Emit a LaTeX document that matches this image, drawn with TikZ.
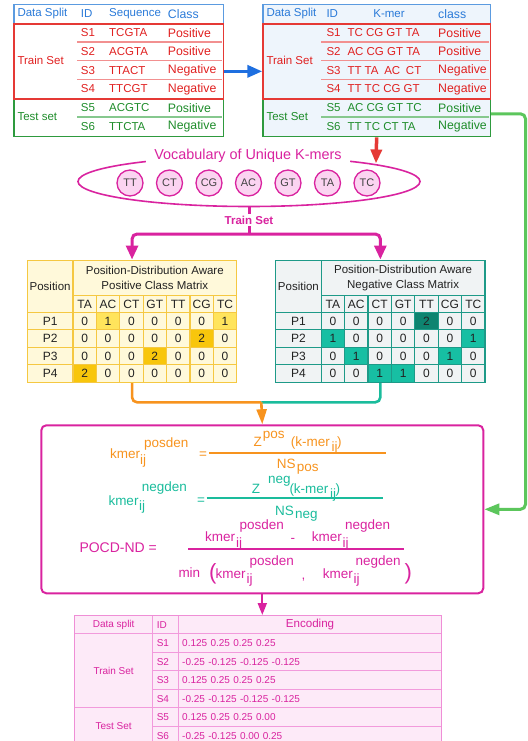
\documentclass[tikz,border=0pt]{standalone}
\usepackage{fontspec}
\setmainfont{Liberation Sans}
\usetikzlibrary{arrows.meta,calc,shapes.geometric}

% palette
\definecolor{hdrblue}{HTML}{5B9BE0}
\definecolor{txtblue}{HTML}{2A7AD8}
\definecolor{arrblue}{HTML}{1E6FE0}
\definecolor{trred}{HTML}{E53935}
\definecolor{trtxt}{HTML}{E02020}
\definecolor{trredl}{HTML}{F29090}
\definecolor{tsgreen}{HTML}{2E9A3E}
\definecolor{tstxt}{HTML}{1E8C2A}
\definecolor{tsgreenl}{HTML}{86C88E}
\definecolor{kmerbg}{HTML}{EEF5FC}
\definecolor{magc}{HTML}{D9239F}
\definecolor{magl}{HTML}{FBD4F1}
\definecolor{orngc}{HTML}{F7931E}
\definecolor{tealc}{HTML}{1ABC9C}
\definecolor{tealb}{HTML}{1E9A88}
\definecolor{greenc}{HTML}{5CC65C}
\definecolor{celltxt}{HTML}{222222}
\definecolor{pbg}{HTML}{FDEAF8}
\definecolor{pborder}{HTML}{F29ADC}
% cell fills of the two class matrices (index = count)
\definecolor{pmc0}{HTML}{FFF9DA}
\definecolor{pmc1}{HTML}{FFE45C}
\definecolor{pmc2}{HTML}{F8C60C}
\definecolor{yborder}{HTML}{F5C842}
\definecolor{nmc0}{HTML}{F0F3F4}
\definecolor{nmc1}{HTML}{17BFA3}
\definecolor{nmc2}{HTML}{0E8470}

\newcommand\fsz[1]{\fontsize{#1}{#1}\selectfont}

% position-distribution class matrix: #1 prefix, #2 left x, #3 border, #4 title line, #5 rows
\newcommand\classmatrix[5]{%
  \begin{scope}[every node/.style={draw=#3, line width=1.2pt, inner sep=0pt, text=celltxt, font=\fsz{11.5}, anchor=north west}]
    \node[fill=#1c0, minimum width=45.6pt, minimum height=52.2pt] (#1-pos) at (#2,259.5) {Position};
    \node[fill=#1c0, minimum width=163.8pt, minimum height=35.5pt, align=center, font=\fontsize{11.5}{15}\selectfont] (#1-title) at ({#2+45.6},259.5) {Position-Distribution Aware\\#4};
    \foreach \k [count=\c] in {TA,AC,CT,GT,TT,CG,TC}
      \node[fill=#1c0, minimum width=23.4pt, minimum height=16.7pt, font=\fsz{12}] (#1-h\c) at ({#2+45.6+23.4*(\c-1)},295) {\k};
    \foreach \row [count=\r] in {#5} {
      \node[fill=#1c0, minimum width=45.6pt, minimum height=17.5pt, font=\fsz{12}] (#1-p\r) at (#2,{311.7+17.5*(\r-1)}) {P\r};
      \foreach \v [count=\c] in \row
        \node[fill=#1c\v, minimum width=23.4pt, minimum height=17.5pt, font=\fsz{12}] (#1-\r-\c) at ({#2+45.6+23.4*(\c-1)},{311.7+17.5*(\r-1)}) {\v};
    }
  \end{scope}
  \node[draw=#3, line width=1.3pt, minimum width=209.4pt, minimum height=122.2pt, anchor=north west, inner sep=0pt] (#1M) at (#2,259.5) {};
}

\begin{document}
\begin{tikzpicture}[x=1pt,y=-1pt,
  box/.style={rectangle, anchor=north west, inner sep=0pt, line width=1.3pt},
  ttxt/.style={anchor=west, inner sep=0pt, font=\fsz{11.5}},
  ctxt/.style={anchor=west, inner sep=0pt, font=\fsz{12.3}},
  kcirc/.style={circle, draw=magc, fill=magl, line width=1.3pt, minimum size=26pt, inner sep=0pt, text=celltxt!85, font=\fsz{11}},
  fx/.style={anchor=base west, inner sep=0pt, font=\fsz{13.5}},
  fbig/.style={anchor=base west, inner sep=0pt, font=\fsz{22}},
  ecell/.style={draw=pborder, fill=pbg, line width=1pt, anchor=north west, inner sep=0pt, text=magc, font=\fsz{10}},
]
\useasboundingbox (0,0) rectangle (527,741);
\clip (0,0) rectangle (527,741);

% ---------- sequence table ----------
\node[box, draw=hdrblue, minimum width=209.7pt, minimum height=19.3pt] (hdrL) at (13.3,4) {};
\node[box, draw=tsgreen, minimum width=209.7pt, minimum height=37.7pt] (testL) at (13.3,98.3) {};
\node[box, draw=trred, minimum width=209.7pt, minimum height=75pt] (trainL) at (13.3,23.3) {};
\foreach \yy in {42,60.7,79.3} \draw[trredl, line width=1.2pt] (77,\yy) -- (222.3,\yy);
\draw[tsgreenl, line width=1.2pt] (77,117) -- (222.3,117);

\node[ttxt, text=txtblue] (hL1) at (17.3,13.7) {Data Split};
\node[ttxt, text=txtblue] (hL2) at (80.7,13.7) {ID};
\node[ttxt, text=txtblue] (hL3) at (109,13.7) {Sequence};
\node[ctxt, text=txtblue] (hL4) at (167.7,13.7) {Class};
\node[ttxt, text=trtxt] (trLab) at (17.3,60.8) {Train Set};
\node[ttxt, text=tstxt] (tsLab) at (17.3,117) {Test set};
\foreach \id/\sq/\cl [count=\i] in {S1/TCGTA/Positive, S2/ACGTA/Positive, S3/TTACT/Negative, S4/TTCGT/Negative} {
  \node[ttxt, text=trtxt] (lid\i) at (80.7,{23.3+18.75*(\i-0.5)}) {\id};
  \node[ttxt, text=trtxt] (lsq\i) at (109,{23.3+18.75*(\i-0.5)}) {\sq};
  \node[ctxt, text=trtxt] (lcl\i) at (167.7,{23.3+18.75*(\i-0.5)}) {\cl};
}
\foreach \id/\sq/\cl [count=\i] in {S5/ACGTC/Positive, S6/TTCTA/Negative} {
  \node[ttxt, text=tstxt] (lidt\i) at (80.7,{98.3+18.85*(\i-0.5)}) {\id};
  \node[ttxt, text=tstxt] (lsqt\i) at (109,{98.3+18.85*(\i-0.5)}) {\sq};
  \node[ctxt, text=tstxt] (lclt\i) at (167.7,{98.3+18.85*(\i-0.5)}) {\cl};
}

% ---------- k-mer table ----------
\node[box, draw=hdrblue, fill=kmerbg, minimum width=227.4pt, minimum height=19.3pt] (hdrR) at (262.3,4) {};
\node[box, draw=tsgreen, fill=kmerbg, minimum width=227.4pt, minimum height=37.7pt] (testR) at (262.3,98.3) {};
\node[box, draw=trred, fill=kmerbg, minimum width=227.4pt, minimum height=75pt] (trainR) at (262.3,23.3) {};
\foreach \yy in {42,60.7,79.3} \draw[trredl, line width=1.2pt] (321.3,\yy) -- (489,\yy);
\draw[tsgreenl, line width=1.2pt] (321.3,117) -- (489,117);

\node[ttxt, text=txtblue] (hR1) at (266.3,13.7) {Data Split};
\node[ttxt, text=txtblue] (hR2) at (326.3,13.7) {ID};
\node[inner sep=0pt, font=\fsz{11.5}, text=txtblue] (hR3) at (389,13.7) {K-mer};
\node[ctxt, text=txtblue] (hR4) at (438,13.7) {class};
\node[ttxt, text=trtxt] (trRab) at (266.3,60.8) {Train Set};
\node[ttxt, text=tstxt] (tsRab) at (266.3,117) {Test Set};
\foreach \id/\km/\cl [count=\i] in {S1/TC CG GT TA/Positive, S2/AC CG GT TA/Positive, S3/TT TA\hspace{2.5pt} AC\hspace{2.5pt} CT/Negative, S4/TT TC CG GT/Negative} {
  \node[ttxt, text=trtxt] (rid\i) at (326.3,{23.3+18.75*(\i-0.5)}) {\id};
  \node[ttxt, text=trtxt] (rkm\i) at (347.3,{23.3+18.75*(\i-0.5)}) {\km};
  \node[ctxt, text=trtxt] (rcl\i) at (438,{23.3+18.75*(\i-0.5)}) {\cl};
}
\foreach \id/\km/\cl [count=\i] in {S5/AC CG GT TC/Positive, S6/TT TC CT TA/Negative} {
  \node[ttxt, text=tstxt] (ridt\i) at (326.3,{98.3+18.85*(\i-0.5)}) {\id};
  \node[ttxt, text=tstxt] (rkmt\i) at (347.3,{98.3+18.85*(\i-0.5)}) {\km};
  \node[ctxt, text=tstxt] (rclt\i) at (438,{98.3+18.85*(\i-0.5)}) {\cl};
}

% sequences -> k-mers
\draw[arrblue, line width=3.5pt, -{Triangle[length=15pt,width=12pt]}] ($(trainL.east)+(0,9.9)$) -- ($(trainR.west)+(0,9.9)$);

% ---------- vocabulary ----------
\node[ellipse, draw=magc, line width=1.6pt, minimum width=342pt, minimum height=50pt, inner sep=0pt] (vocab) at (249,181.5) {};
\node[fill=white, text=magc, font=\fsz{14.4}, inner xsep=8pt, inner ysep=1pt] (vtitle) at (248,155.5) {Vocabulary of Unique K-mers};
\foreach \k [count=\i] in {TT,CT,CG,AC,GT,TA,TC}
  \node[kcirc] (k\i) at ({130+39.5*(\i-1)},183) {\k};

\coordinate (vhit) at (376,163.5);
\draw[trred, line width=3.5pt, -{Triangle[length=14pt,width=11pt]}] (testR.south) -- (vhit);

% ---------- class matrices ----------
\classmatrix{pm}{26.7}{yborder}{Positive Class Matrix}{{0,1,0,0,0,0,1},{0,0,0,0,0,2,0},{0,0,0,2,0,0,0},{2,0,0,0,0,0,0}}
\classmatrix{nm}{275}{tealb}{Negative Class Matrix}{{0,0,0,0,2,0,0},{1,0,0,0,0,0,1},{0,1,0,0,0,1,0},{0,0,1,1,0,0,0}}

% train split of the vocabulary
\coordinate (split) at (249,234);
\draw[magc, line width=3pt] (vocab.south) -- (split);
\draw[magc, line width=3pt, rounded corners=5pt, -{Triangle[length=14pt,width=12pt]}] (split) -| (pmM.north);
\draw[magc, line width=3pt, rounded corners=5pt, -{Triangle[length=14pt,width=12pt]}] (split) -| (nmM.north);
\node[fill=white, text=magc, font=\bfseries\fsz{11.5}, inner xsep=2pt, inner ysep=1.5pt] (tsplit) at (249,220) {Train Set};

% ---------- formula box ----------
\node[draw=magc, line width=2pt, rounded corners=5pt, minimum width=442pt, minimum height=168pt, anchor=north west, inner sep=0pt] (fbox) at (40.3,424.3) {};

\coordinate (merge) at (261.3,402.3);
\draw[orngc, line width=2.6pt, rounded corners=5pt] (pmM.south) |- (merge);
\draw[tealc, line width=2.6pt, rounded corners=5pt] (nmM.south) |- (merge);
\draw[orngc, line width=2.6pt, -{Triangle[length=15pt,width=10pt]}] (merge) -- (fbox.north);

\coordinate (gstart) at ($(testR.east)+(0,-4)$);
\coordinate (gcol) at (525.5,0);
\draw[greenc, line width=3pt, rounded corners=5pt, -{Triangle[length=15pt,width=11pt]}] (gstart) -- (gcol |- gstart) -- (gcol |- fbox.east) -- (fbox.east);

% positive density
\begin{scope}[every node/.append style={text=orngc}]
\node[fx] (f1k) at (110,458) {kmer};
\node[fx] (f1i) at (140,464.5) {ij};
\node[fx] (f1s) at (144,447) {posden};
\node[fx] (f1e) at (199,458) {=};
\node[fx] (f1z) at (253.3,446.7) {Z};
\node[fx] (f1p) at (262.7,438.3) {pos};
\node[fx] (f1m) at (290.7,446.7) {(k-mer};
\node[fx] (f1j) at (331.5,451) {ij};
\node[fx] (f1c) at (337,446.7) {)};
\node[fx] (f1n) at (276.7,468.3) {NS};
\node[fx] (f1q) at (296.7,471) {pos};
\end{scope}
\draw[orngc, line width=1.8pt] (209.3,452.7) -- (385.7,452.7);

% negative density
\begin{scope}[every node/.append style={text=tealc}]
\node[fx] (f2k) at (108.3,505) {kmer};
\node[fx] (f2i) at (139,510.5) {ij};
\node[fx] (f2s) at (141.7,491.5) {negden};
\node[fx] (f2e) at (197,504.5) {=};
\node[fx] (f2z) at (251.7,493.3) {Z};
\node[fx] (f2p) at (268,483.5) {neg};
\node[fx] (f2m) at (289.3,493.3) {(k-mer};
\node[fx] (f2j) at (330,498.3) {ij};
\node[fx] (f2c) at (335.5,493.3) {)};
\node[fx] (f2n) at (275,515) {NS};
\node[fx] (f2q) at (295,518) {neg};
\end{scope}
\draw[tealc, line width=1.8pt] (206.7,498.3) -- (383.3,498.3);

% POCD-ND
\begin{scope}[every node/.append style={text=magc}]
\node[fx, font=\fsz{14}] (f3a) at (79.3,552) {POCD-ND =};
\node[fx] (f3k1) at (205,541.7) {kmer};
\node[fx] (f3i1) at (236,547) {ij};
\node[fx] (f3s1) at (239.3,529.3) {posden};
\node[fx] (f3m) at (290.5,542.5) {-};
\node[fx] (f3k2) at (311.7,541.7) {kmer};
\node[fx] (f3i2) at (342.5,547) {ij};
\node[fx] (f3s2) at (345,529.3) {negden};
\node[fx] (f3min) at (178.3,577) {min};
\node[fbig] (f3lp) at (209,579) {(};
\node[fx] (f3k3) at (215.5,578.3) {kmer};
\node[fx] (f3i3) at (246.5,583.5) {ij};
\node[fx] (f3s3) at (249.3,565) {posden};
\node[fx] (f3cm) at (301.5,579) {,};
\node[fx] (f3k4) at (322.7,578.3) {kmer};
\node[fx] (f3i4) at (353.5,583.5) {ij};
\node[fx] (f3s4) at (355.5,565) {negden};
\node[fbig] (f3rp) at (404.5,579) {)};
\end{scope}
\draw[magc, line width=1.8pt] (188.3,549.3) -- (404,549.3);

% ---------- encoding table ----------
\node[ecell, minimum width=78.3pt, minimum height=18.3pt] (eh1) at (74,615) {Data split};
\node[ecell, minimum width=26pt, minimum height=18.3pt, inner xsep=4pt, text width=18pt, align=left] (eh2) at (152.3,615) {ID};
\node[ecell, minimum width=262.4pt, minimum height=18.3pt, font=\fsz{11.6}] (eh3) at (178.3,615) {Encoding};
\node[ecell, minimum width=78.3pt, minimum height=74pt] (etr) at (74,633.3) {Train Set};
\node[ecell, minimum width=78.3pt, minimum height=37pt] (ets) at (74,707.3) {Test Set};
\foreach \id/\enc [count=\i] in {S1/0.125 0.25 0.25 0.25, S2/-0.25 -0.125 -0.125 -0.125, S3/0.125 0.25 0.25 0.25, S4/-0.25 -0.125 -0.125 -0.125, S5/0.125 0.25 0.25 0.00, S6/-0.25 -0.125 0.00 0.25} {
  \node[ecell, minimum width=26pt, minimum height=18.5pt, inner xsep=4pt, text width=18pt, align=left] (eid\i) at (152.3,{633.3+18.5*(\i-1)}) {\id};
  \node[ecell, minimum width=262.4pt, minimum height=18.5pt, inner xsep=3.4pt, text width=255.6pt, align=left] (eenc\i) at (178.3,{633.3+18.5*(\i-1)}) {\enc};
}
\node[draw=pborder!90!magc, line width=1pt, minimum width=366.7pt, minimum height=130pt, anchor=north west, inner sep=0pt] (encT) at (74,615) {};

\draw[magc, line width=2pt, -{Triangle[length=12pt,width=9pt]}] (fbox.south) -- (fbox.south |- encT.north);

\end{tikzpicture}
\end{document}
